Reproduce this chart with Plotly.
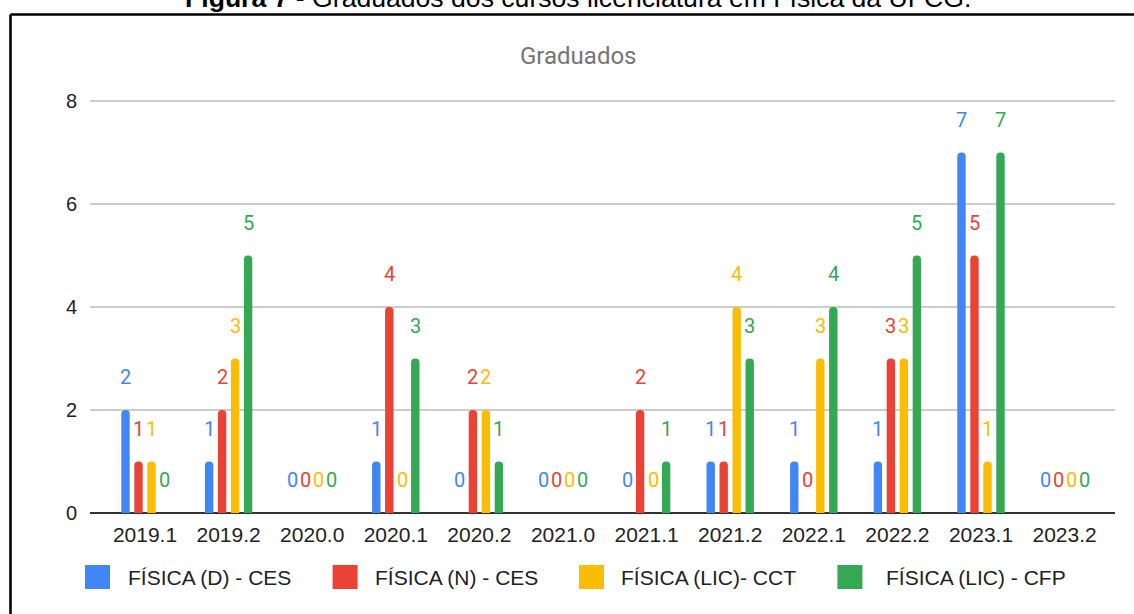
import plotly.graph_objects as go

# Semesters on the x axis
categories = ["2019.1", "2019.2", "2020.0", "2020.1", "2020.2", "2021.0",
              "2021.1", "2021.2", "2022.1", "2022.2", "2023.1", "2023.2"]

# Graduates per course and semester
fisica_d_ces = [2, 1, 0, 1, 0, 0, 0, 1, 1, 1, 7, 0]
fisica_n_ces = [1, 2, 0, 4, 2, 0, 2, 1, 0, 3, 5, 0]
fisica_lic_cct = [1, 3, 0, 0, 2, 0, 0, 4, 3, 3, 1, 0]
fisica_lic_cfp = [0, 5, 0, 3, 1, 0, 1, 3, 4, 5, 7, 0]

series_names = ["FÍSICA (D) - CES", "FÍSICA (N) - CES",
                "FÍSICA (LIC)- CCT", "FÍSICA (LIC) - CFP"]
series_values = [fisica_d_ces, fisica_n_ces, fisica_lic_cct, fisica_lic_cfp]
series_colors = ["#4285F4", "#EA4335", "#FBBC04", "#34A853"]

y_ticks = [0, 2, 4, 6, 8]

chart_title = "Graduados"
caption_bold = "Figura 7"
caption_rest = " - Graduados dos cursos licenciatura em Física da UFCG."

# ---- geometry ----
W, H = 1134, 614
ML, MR, MT, MB = 90, 19, 99, 101
PW, PH = W - ML - MR, H - MT - MB
Y_MAX = 8.04
X_RANGE = [-0.658, 11.603]
BARGAP = 0.378
BARGROUPGAP = 0.354
n_series = len(series_values)
slot = (1 - BARGAP) / n_series


def px_x(px):
    return (px - ML) / PW


def px_y(py):
    return (H - MB - py) / PH


fig = go.Figure()
for name, vals, color in zip(series_names, series_values, series_colors):
    fig.add_trace(go.Bar(
        name=name, x=categories, y=vals,
        marker=dict(color=color, cornerradius=4, line=dict(width=0)),
        showlegend=False, hoverinfo="x+y+name",
    ))

annotations = []
# value labels floating above each bar
for j, (vals, color) in enumerate(zip(series_values, series_colors)):
    offset = (j - (n_series - 1) / 2) * slot
    for i, v in enumerate(vals):
        annotations.append(dict(
            x=i + offset, y=v, xref="x", yref="y", text=str(v),
            showarrow=False, yshift=33, yanchor="middle", xanchor="center",
            font=dict(family="Roboto, Arial, sans-serif", size=20, color=color),
        ))

# custom legend below the axis
swatch_x = [85, 332.6, 579, 837.4]
text_x = [126, 372.5, 619, 884]
shapes = []
for sx, tx, name, color in zip(swatch_x, text_x, series_names, series_colors):
    shapes.append(dict(type="rect", xref="paper", yref="paper",
                       x0=px_x(sx), x1=px_x(sx + 25), y0=px_y(589), y1=px_y(565),
                       fillcolor=color, line=dict(width=0), layer="above"))
    annotations.append(dict(x=px_x(tx), y=px_y(577), xref="paper", yref="paper",
                            text=name, showarrow=False, xanchor="left", yanchor="middle",
                            font=dict(family="Arial, Liberation Sans, sans-serif",
                                      size=21, color="#222222")))

# chart title
annotations.append(dict(x=px_x(578), y=px_y(56), xref="paper", yref="paper",
                        text=chart_title, showarrow=False, xanchor="center", yanchor="middle",
                        font=dict(family="Roboto, Arial, sans-serif", size=24, color="#757575")))

# figure caption at the very top
annotations.append(dict(x=px_x(578), y=px_y(-2.5), xref="paper", yref="paper",
                        text="<b>" + caption_bold + "</b>" + caption_rest,
                        showarrow=False, xanchor="center", yanchor="middle",
                        font=dict(family="Arial, Liberation Sans, sans-serif", size=26.6, color="#000000")))

# frame (top and left edges)
shapes.append(dict(type="line", xref="paper", yref="paper",
                   x0=px_x(10.5), x1=px_x(W + 20), y0=px_y(14.5), y1=px_y(14.5),
                   line=dict(color="#000000", width=2.6)))
shapes.append(dict(type="line", xref="paper", yref="paper",
                   x0=px_x(10.5), x1=px_x(10.5), y0=px_y(14.5), y1=px_y(H + 20),
                   line=dict(color="#000000", width=2.6)))

fig.update_layout(
    width=W, height=H,
    margin=dict(l=ML, r=MR, t=MT, b=MB, pad=0),
    paper_bgcolor="white", plot_bgcolor="white",
    barmode="group", bargap=BARGAP, bargroupgap=BARGROUPGAP,
    showlegend=False,
    annotations=annotations, shapes=shapes,
    xaxis=dict(
        type="category", range=X_RANGE, showgrid=False, zeroline=False,
        showline=False, ticks="outside", ticklen=3, tickcolor="rgba(0,0,0,0)",
        tickfont=dict(family="Arial, Liberation Sans, sans-serif", size=21, color="#222222"),
    ),
    yaxis=dict(
        range=[0, Y_MAX], tickvals=y_ticks, showgrid=True,
        gridcolor="#cccccc", gridwidth=2,
        zeroline=True, zerolinecolor="#333333", zerolinewidth=2.4,
        showline=False, ticks="outside", ticklen=8, tickcolor="rgba(0,0,0,0)",
        tickfont=dict(family="Arial, Liberation Sans, sans-serif", size=20, color="#222222"),
    ),
)

fig.write_html("out.html")
